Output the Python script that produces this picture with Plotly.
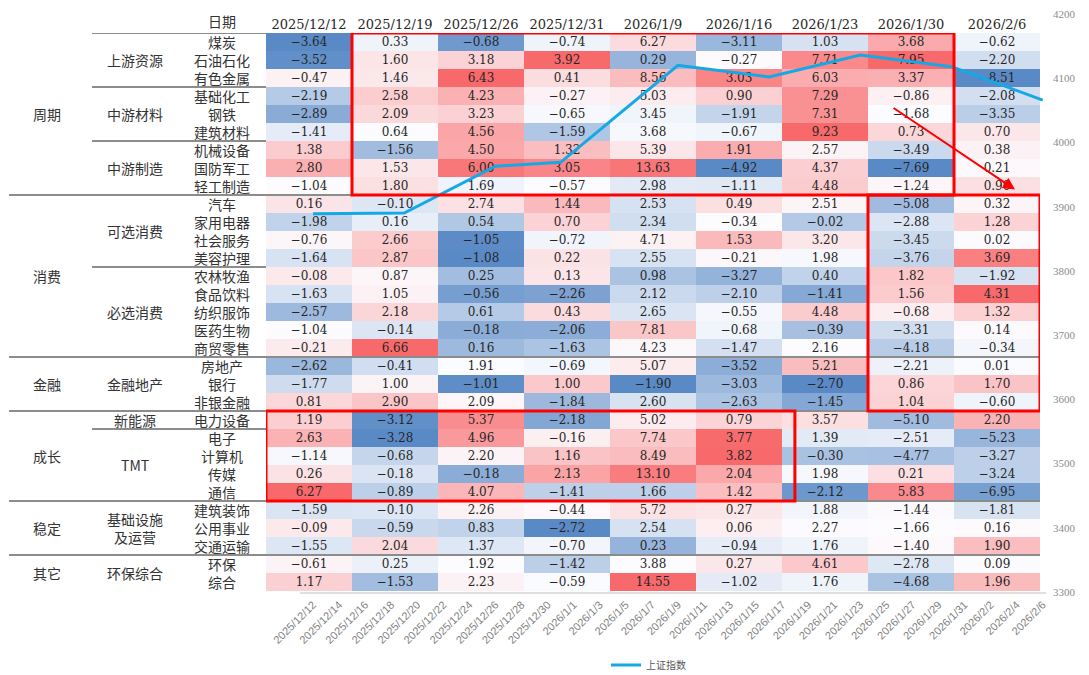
import numpy as np
import plotly.graph_objects as go

W, H = 1089, 675

week_labels = ['2025/12/12', '2025/12/19', '2025/12/26', '2025/12/31', '2026/1/9',
               '2026/1/16', '2026/1/23', '2026/1/30', '2026/2/6']

sectors = ['周期', '消费', '金融', '成长', '稳定', '其它']
sector_sizes = [9, 9, 3, 5, 3, 2]
groups = ['上游资源', '中游材料', '中游制造', '可选消费', '必选消费', '金融地产',
          '新能源', 'TMT', '基础设施<br>及运营', '环保综合']
group_sizes = [3, 3, 3, 4, 5, 3, 1, 4, 3, 2]
industries = ['煤炭', '石油石化', '有色金属', '基础化工', '钢铁', '建筑材料', '机械设备',
              '国防军工', '轻工制造', '汽车', '家用电器', '社会服务', '美容护理', '农林牧渔',
              '食品饮料', '纺织服饰', '医药生物', '商贸零售', '房地产', '银行', '非银金融',
              '电力设备', '电子', '计算机', '传媒', '通信', '建筑装饰', '公用事业', '交通运输',
              '环保', '综合']

w_1212 = [-3.64, -3.52, -0.47, -2.19, -2.89, -1.41, 1.38, 2.80, -1.04, 0.16, -1.98, -0.76,
          -1.64, -0.08, -1.63, -2.57, -1.04, -0.21, -2.62, -1.77, 0.81, 1.19, 2.63, -1.14,
          0.26, 6.27, -1.59, -0.09, -1.55, -0.61, 1.17]
w_1219 = [0.33, 1.60, 1.46, 2.58, 2.09, 0.64, -1.56, 1.53, 1.80, -0.10, 0.16, 2.66, 2.87,
          0.87, 1.05, 2.18, -0.14, 6.66, -0.41, 1.00, 2.90, -3.12, -3.28, -0.68, -0.18,
          -0.89, -0.10, -0.59, 2.04, 0.25, -1.53]
w_1226 = [-0.68, 3.18, 6.43, 4.23, 3.23, 4.56, 4.50, 6.00, 1.69, 2.74, 0.54, -1.05, -1.08,
          0.25, -0.56, 0.61, -0.18, 0.16, 1.91, -1.01, 2.09, 5.37, 4.96, 2.20, -0.18, 4.07,
          2.26, 0.83, 1.37, 1.92, 2.23]
w_1231 = [-0.74, 3.92, 0.41, -0.27, -0.65, -1.59, 1.32, 3.05, -0.57, 1.44, 0.70, -0.72,
          0.22, 0.13, -2.26, 0.43, -2.06, -1.63, -0.69, 1.00, -1.84, -2.18, -0.16, 1.16,
          2.13, -1.41, -0.44, -2.72, -0.70, -1.42, -0.59]
w_0109 = [6.27, 0.29, 8.56, 5.03, 3.45, 3.68, 5.39, 13.63, 2.98, 2.53, 2.34, 4.71, 2.55,
          0.98, 2.12, 2.65, 7.81, 4.23, 5.07, -1.90, 2.60, 5.02, 7.74, 8.49, 13.10, 1.66,
          5.72, 2.54, 0.23, 3.88, 14.55]
w_0116 = [-3.11, -0.27, 3.03, 0.90, -1.91, -0.67, 1.91, -4.92, -1.11, 0.49, -0.34, 1.53,
          -0.21, -3.27, -2.10, -0.55, -0.68, -1.47, -3.52, -3.03, -2.63, 0.79, 3.77, 3.82,
          2.04, 1.42, 0.27, 0.06, -0.94, 0.27, -1.02]
w_0123 = [1.03, 7.71, 6.03, 7.29, 7.31, 9.23, 2.57, 4.37, 4.48, 2.51, -0.02, 3.20, 1.98,
          0.40, -1.41, 4.48, -0.39, 2.16, 5.21, -2.70, -1.45, 3.57, 1.39, -0.30, 1.98,
          -2.12, 1.88, 2.27, 1.76, 4.61, 1.76]
w_0130 = [3.68, 7.95, 3.37, -0.86, -1.68, 0.73, -3.49, -7.69, -1.24, -5.08, -2.88, -3.45,
          -3.76, 1.82, 1.56, -0.68, -3.31, -4.18, -2.21, 0.86, 1.04, -5.10, -2.51, -4.77,
          0.21, 5.83, -1.44, -1.66, -1.40, -2.78, -4.68]
w_0206 = [-0.62, -2.20, -8.51, -2.08, -3.35, 0.70, 0.38, 0.21, 0.90, 0.32, 1.28, 0.02, 3.69,
          -1.92, 4.31, 1.32, 0.14, -0.34, 0.01, 1.70, -0.60, 2.20, -5.23, -3.27, -3.24,
          -6.95, -1.81, 0.16, 1.90, 0.09, 1.96]
weekly_columns = [w_1212, w_1219, w_1226, w_1231, w_0109, w_0116, w_0123, w_0130, w_0206]

sse_dates = ['2025-12-12', '2025-12-19', '2025-12-26', '2025-12-31', '2026-01-09',
             '2026-01-16', '2026-01-23', '2026-01-30', '2026-02-06']
sse_close = [3889, 3890, 3963, 3969, 4120, 4102, 4136, 4118, 4066]

axis_tick_dates = ['2025-12-12', '2025-12-14', '2025-12-16', '2025-12-18', '2025-12-20',
                   '2025-12-22', '2025-12-24', '2025-12-26', '2025-12-28', '2025-12-30',
                   '2026-01-01', '2026-01-03', '2026-01-05', '2026-01-07', '2026-01-09',
                   '2026-01-11', '2026-01-13', '2026-01-15', '2026-01-17', '2026-01-19',
                   '2026-01-21', '2026-01-23', '2026-01-25', '2026-01-27', '2026-01-29',
                   '2026-01-31', '2026-02-02', '2026-02-04', '2026-02-06']
axis_tick_labels = ['2025/12/12', '2025/12/14', '2025/12/16', '2025/12/18', '2025/12/20',
                    '2025/12/22', '2025/12/24', '2025/12/26', '2025/12/28', '2025/12/30',
                    '2026/1/1', '2026/1/3', '2026/1/5', '2026/1/7', '2026/1/9',
                    '2026/1/11', '2026/1/13', '2026/1/15', '2026/1/17', '2026/1/19',
                    '2026/1/21', '2026/1/23', '2026/1/25', '2026/1/27', '2026/1/29',
                    '2026/1/31', '2026/2/2', '2026/2/4', '2026/2/6']
index_ticks = [3300, 3400, 3500, 3600, 3700, 3800, 3900, 4000, 4100, 4200]

# ---- per-column 3-colour scale (min / median / max), like Excel conditional formatting
vals = np.array(weekly_columns).T  # rows x cols
Z = np.zeros_like(vals)
for j in range(vals.shape[1]):
    col = vals[:, j]
    mn, md, mx = col.min(), np.percentile(col, 50), col.max()
    Z[:, j] = np.where(col <= md, 0.5 * (col - mn) / (md - mn),
                       0.5 + 0.5 * (col - md) / (mx - md))
T = [[f"{v:.2f}".replace('-', '\u2212') for v in row] for row in vals]

fig = go.Figure()
fig.add_trace(go.Heatmap(
    z=Z, x=week_labels, y=industries, text=T, texttemplate='%{text}',
    textfont=dict(family='DejaVu Serif', size=12, color='#262626'),
    colorscale=[[0, '#5A8AC6'], [0.5, '#FCFCFF'], [1, '#F8696B']],
    zmin=0, zmax=1, showscale=False, hoverinfo='skip', xaxis='x', yaxis='y'))

fig.add_trace(go.Scatter(
    x=sse_dates, y=sse_close, mode='lines', name='上证指数',
    line=dict(color='#14A9E6', width=3), xaxis='x2', yaxis='y2', hoverinfo='skip'))

lab_font = dict(family='Noto Sans CJK SC', size=14, color='#333333')
ann = []
for name in industries:
    ann.append(dict(x=222 / W, xref='paper', y=name, yref='y', text=name,
                    showarrow=False, font=lab_font, xanchor='center', yanchor='middle'))
start = 0
for g, n in zip(groups, group_sizes):
    ann.append(dict(x=135 / W, xref='paper', y=start + (n - 1) / 2, yref='y', text=g,
                    showarrow=False, font=lab_font, xanchor='center', yanchor='middle'))
    start += n
start = 0
for s, n in zip(sectors, sector_sizes):
    ann.append(dict(x=47 / W, xref='paper', y=start + (n - 1) / 2, yref='y', text=s,
                    showarrow=False, font=lab_font, xanchor='center', yanchor='middle'))
    start += n
ann.append(dict(x=222 / W, xref='paper', y=1 - 21 / H, yref='paper', text='日期',
                showarrow=False, font=lab_font, xanchor='center', yanchor='middle'))
ann.append(dict(x=8.21, y=8.2, xref='x', yref='y', ax=6.78, ay=3.61, axref='x', ayref='y',
                text='', showarrow=True, arrowhead=2, arrowsize=1.2, arrowwidth=2,
                arrowcolor='#FF0000'))

shapes = []
line_col = '#8c8c8c'
shapes.append(dict(type='line', xref='paper', yref='y', x0=92 / W, x1=266 / W, y0=-0.5, y1=-0.5,
                   line=dict(color=line_col, width=2), layer='above'))
for b in np.cumsum(group_sizes)[:-1] - 0.5:
    shapes.append(dict(type='line', xref='paper', yref='y', x0=92 / W, x1=266 / W, y0=b, y1=b,
                       line=dict(color=line_col, width=2), layer='above'))
for b in np.cumsum(sector_sizes)[:-1] - 0.5:
    shapes.append(dict(type='line', xref='paper', yref='y', x0=9 / W, x1=1040 / W, y0=b, y1=b,
                       line=dict(color=line_col, width=2), layer='above'))
for (x0, x1, y0, y1) in [(0.5, 7.5, -0.5, 8.5), (6.5, 8.5, 8.5, 20.5), (-0.5, 5.65, 20.5, 25.5)]:
    shapes.append(dict(type='rect', xref='x', yref='y', x0=x0, x1=x1, y0=y0, y1=y1,
                       line=dict(color='#FF0000', width=3), fillcolor='rgba(0,0,0,0)',
                       layer='above'))

fig.update_layout(
    width=W, height=H, autosize=False,
    margin=dict(l=0, r=0, t=0, b=0, pad=0, autoexpand=False),
    paper_bgcolor='white', plot_bgcolor='rgba(0,0,0,0)',
    xaxis=dict(domain=[266 / W, 1040 / W], anchor='y', side='top', type='category',
               range=[-0.5, 8.5], showgrid=False, zeroline=False, ticks='', showline=False,
               automargin=False,
               tickfont=dict(family='DejaVu Serif', size=13, color='#262626')),
    yaxis=dict(domain=[1 - 591 / H, 1 - 33 / H], anchor='x', type='category',
               range=[30.5, -0.5], showgrid=False, zeroline=False, showticklabels=False,
               ticks='', automargin=False),
    xaxis2=dict(domain=[300 / W, 1046 / W], anchor='y2', type='date',
                range=['2025-12-11', '2026-02-06 06:00'], tickvals=axis_tick_dates,
                ticktext=axis_tick_labels, tickangle=-45, ticks='', automargin=False,
                tickfont=dict(family='Liberation Sans', size=11, color='#7f7f7f'),
                showgrid=False, zeroline=False, showline=True, linecolor='#e0e0e0', linewidth=2),
    yaxis2=dict(domain=[1 - 592 / H, 1 - 14 / H], anchor='free', position=1052 / W,
                side='right', range=[3300, 4200], tickvals=index_ticks, ticks='',
                automargin=False,
                tickfont=dict(family='Liberation Serif', size=11, color='#8c8c8c'),
                showgrid=False, zeroline=False, showline=False),
    showlegend=True,
    legend=dict(x=606 / W, y=1 - 665 / H, xanchor='left', yanchor='middle', orientation='h',
                font=dict(family='Noto Sans CJK SC', size=10, color='#595959'),
                bgcolor='rgba(0,0,0,0)'),
    annotations=ann, shapes=shapes,
)

fig.write_html('out.html', config={'displayModeBar': False},
               post_script="document.body.style.margin='0px';")
